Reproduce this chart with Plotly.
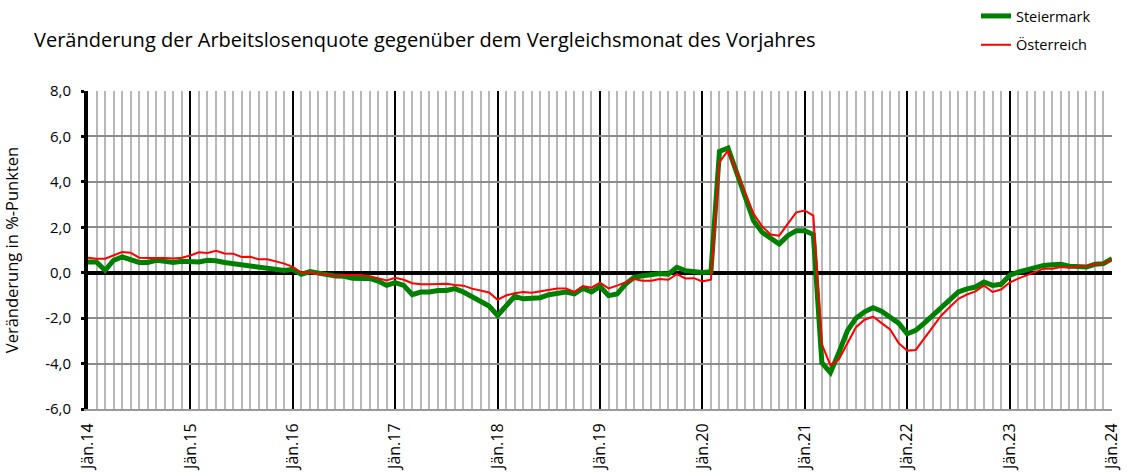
import plotly.graph_objects as go

months = list(range(121))
tick_vals_x = [0, 12, 24, 36, 48, 60, 72, 84, 96, 108, 120]
tick_text_x = ["Jän.14", "Jän.15", "Jän.16", "Jän.17", "Jän.18", "Jän.19",
               "Jän.20", "Jän.21", "Jän.22", "Jän.23", "Jän.24"]
tick_vals_y = [-6, -4, -2, 0, 2, 4, 6, 8]
tick_text_y = ["-6,0", "-4,0", "-2,0", "0,0", "2,0", "4,0", "6,0", "8,0"]

steiermark = [
    0.47, 0.47, 0.10, 0.55, 0.70, 0.60, 0.45, 0.45, 0.55, 0.50, 0.45, 0.50,
    0.47, 0.47, 0.55, 0.53, 0.45, 0.40, 0.37, 0.30, 0.27, 0.22, 0.15, 0.10,
    0.15, -0.07, 0.05, -0.03, -0.07, -0.15, -0.16, -0.24, -0.25, -0.25, -0.37, -0.56,
    -0.44, -0.56, -0.97, -0.85, -0.85, -0.78, -0.78, -0.70, -0.85, -1.07, -1.25, -1.47,
    -1.88, -1.44, -1.04, -1.15, -1.15, -1.10, -0.97, -0.93, -0.85, -0.93, -0.68, -0.85,
    -0.60, -1.01, -0.94, -0.50, -0.20, -0.13, -0.10, -0.03, -0.06, 0.24, 0.09, 0.04,
    0.01, 0.04, 5.34, 5.49, 4.43, 3.25, 2.29, 1.78, 1.49, 1.26, 1.63, 1.85,
    1.85, 1.68, -3.96, -4.40, -3.51, -2.55, -2.00, -1.72, -1.54, -1.69, -1.96, -2.22,
    -2.69, -2.54, -2.22, -1.88, -1.51, -1.22, -0.85, -0.71, -0.63, -0.41, -0.56, -0.51,
    -0.12, 0.03, 0.13, 0.18, 0.32, 0.35, 0.37, 0.29, 0.29, 0.25, 0.37, 0.40,
    0.62,
]

oesterreich = [
    0.66, 0.62, 0.62, 0.78, 0.91, 0.88, 0.66, 0.65, 0.66, 0.65, 0.63, 0.66,
    0.76, 0.90, 0.87, 0.97, 0.85, 0.84, 0.69, 0.70, 0.59, 0.59, 0.50, 0.40,
    0.26, 0.00, 0.03, -0.07, -0.07, -0.15, -0.10, -0.10, -0.10, -0.15, -0.26, -0.34,
    -0.22, -0.31, -0.46, -0.51, -0.51, -0.51, -0.49, -0.54, -0.57, -0.70, -0.78, -0.87,
    -1.19, -1.00, -0.90, -0.85, -0.88, -0.81, -0.74, -0.70, -0.69, -0.85, -0.59, -0.66,
    -0.44, -0.69, -0.57, -0.43, -0.28, -0.35, -0.35, -0.28, -0.31, -0.06, -0.25, -0.24,
    -0.38, -0.31, 4.87, 5.38, 4.50, 3.54, 2.59, 2.04, 1.68, 1.63, 2.15, 2.66,
    2.74, 2.51, -3.15, -4.07, -3.81, -3.07, -2.40, -2.07, -1.93, -2.22, -2.50, -3.10,
    -3.43, -3.40, -2.91, -2.40, -1.88, -1.51, -1.15, -0.96, -0.82, -0.56, -0.85, -0.74,
    -0.44, -0.26, -0.12, 0.03, 0.18, 0.18, 0.25, 0.22, 0.28, 0.28, 0.37, 0.40,
    0.57,
]

FONT = "Open Sans"

fig = go.Figure()
fig.add_trace(go.Scatter(x=months, y=steiermark, mode="lines", name="Steiermark",
                         legendgroup="st", line=dict(color="#008000", width=5)))
fig.add_trace(go.Scatter(x=months, y=oesterreich, mode="lines", name="Österreich",
                         legendgroup="oe", line=dict(color="#ff0000", width=2)))

fig.update_layout(
    width=1127, height=472,
    margin=dict(l=88, r=15, t=91, b=63, autoexpand=False),
    paper_bgcolor="white", plot_bgcolor="white",
    font=dict(family=FONT, size=13, color="black"),
    title=dict(text="Veränderung der Arbeitslosenquote gegenüber dem Vergleichsmonat des Vorjahres",
               x=34 / 1127, xanchor="left", y=1 - 40 / 472, yanchor="middle",
               font=dict(family=FONT, size=20, color="black")),
    showlegend=True,
    legend=dict(x=(976 - 88) / 1024, xanchor="left", y=1 + 91 / 318, yanchor="top",
                bgcolor="rgba(0,0,0,0)", font=dict(family=FONT, size=14.5),
                tracegroupgap=7, itemwidth=30),
)

fig.update_xaxes(
    range=[0, 120], tickmode="array", tickvals=tick_vals_x, ticktext=tick_text_x,
    tickangle=-90, showgrid=True, gridcolor="black", gridwidth=2,
    minor=dict(dtick=1, showgrid=True, gridcolor="#b8b8b8", gridwidth=2, tick0=0),
    showline=True, linecolor="#999999", linewidth=2, zeroline=False,
    ticks="", tickfont=dict(family=FONT, size=16), automargin=False,
    ticklabelstandoff=6,
)
fig.update_yaxes(
    range=[-6, 8], tickmode="array", tickvals=tick_vals_y, ticktext=tick_text_y,
    showgrid=True, gridcolor="#8c8c8c", gridwidth=2,
    zeroline=True, zerolinecolor="black", zerolinewidth=4,
    showline=True, linecolor="black", linewidth=4,
    ticks="outside", ticklen=3, tickwidth=3, tickcolor="black",
    tickfont=dict(family=FONT, size=15), automargin=False, ticklabelstandoff=7,
    title=dict(text="Veränderung in %-Punkten", font=dict(family=FONT, size=16.5), standoff=30),
)

fig.write_html("out.html", config={"displayModeBar": False},
               post_script="document.body.style.margin='0';document.body.style.overflow='hidden';")
